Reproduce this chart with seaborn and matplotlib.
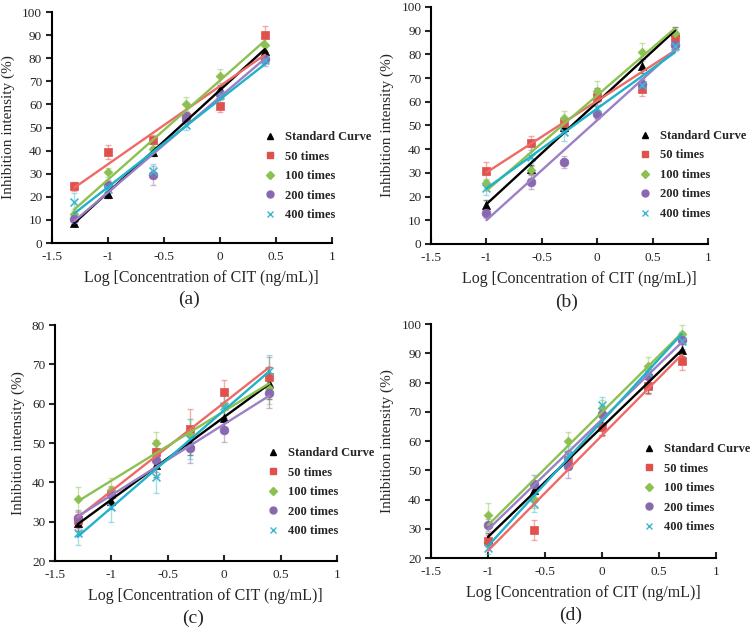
import matplotlib
matplotlib.use("Agg")
import matplotlib.pyplot as plt
from matplotlib.lines import Line2D
import seaborn as sns
import pandas as pd

# --- x positions (log concentration) ---
x_ac = [-1.3, -1.0, -0.6, -0.3, 0.0, 0.4]
x_bd = [-1.0, -0.6, -0.3, 0.0, 0.4, 0.7]

series_names = ["Standard Curve", "50 times", "100 times", "200 times", "400 times"]

# panel (a)
std_a = [8.8, 21.0, 39.5, 54.5, 66.5, 83.0]
r50_a = [24.5, 39.5, 44.7, 54.7, 59.5, 90.0]
r100_a = [12.7, 30.6, 40.8, 60.0, 72.4, 85.6]
r200_a = [10.2, 25.3, 29.3, 54.7, 64.4, 79.8]
r400_a = [17.7, 23.5, 31.2, 51.0, 64.0, 79.4]
err_a = [[1.5, 1.5, 2, 2, 2, 3], [2, 3, 2, 2, 3, 4], [2, 2, 2, 3, 3, 3],
         [2, 2, 4, 2, 2, 3], [4, 2, 3, 2, 2, 2]]

# panel (b)
std_b = [16.4, 31.5, 49.3, 63.0, 75.0, 89.5]
r50_b = [30.7, 42.7, 51.0, 61.8, 65.3, 86.7]
r100_b = [25.6, 31.0, 53.2, 64.6, 81.0, 88.8]
r200_b = [12.9, 26.0, 34.6, 54.7, 67.7, 83.8]
r400_b = [23.8, 36.8, 47.4, 57.5, 67.0, 83.5]
err_b = [[2, 2, 2, 3, 3, 2], [4, 3, 2, 3, 3, 2], [2, 3, 3, 4, 4, 2],
         [2, 3, 2.5, 2, 2, 2], [3, 4, 4, 3, 3, 2]]

# panel (c)
std_c = [29.6, 35.3, 44.3, 50.0, 56.4, 65.3]
r50_c = [30.5, 37.0, 47.7, 53.6, 63.0, 66.9]
r100_c = [35.7, 38.0, 49.9, 52.0, 59.7, 63.9]
r200_c = [30.9, 36.7, 45.7, 48.8, 53.3, 62.8]
r400_c = [27.0, 33.8, 41.3, 51.0, 59.3, 68.3]
err_c = [[2, 2, 3, 3, 3, 4], [2, 2, 3, 5, 3, 5], [3, 3, 3, 4, 3, 4],
         [2, 2, 3, 4, 3, 4], [3, 4, 4, 5, 4, 4]]

# panel (d)
std_d = [26.5, 43.2, 53.5, 65.1, 79.5, 91.1]
r50_d = [25.8, 29.6, 53.5, 64.9, 79.0, 87.5]
r100_d = [34.7, 40.2, 60.0, 71.2, 85.8, 96.8]
r200_d = [31.2, 45.5, 51.5, 69.4, 82.4, 94.5]
r400_d = [23.3, 38.6, 55.2, 72.2, 83.2, 94.2]
err_d = [[2, 3, 3, 3, 3, 2], [2, 3.5, 3, 3, 3, 3], [4, 3, 3, 3, 3, 3],
         [2, 3, 4, 3, 3, 3], [2, 3, 3, 3, 3, 3]]

x_ticks = [-1.5, -1, -0.5, 0, 0.5, 1]
x_ticklabels = ["-1.5", "-1", "-0.5", "0", "0.5", "1"]

# --- styles ---
marker_colors = ["#000000", "#E0504C", "#8CC152", "#8A68B0", "#3DB8D0"]
line_colors = ["#000000", "#EE6A66", "#8CC152", "#9B80C6", "#1FB2C8"]
markers = ["^", "s", "D", "o", "x"]
marker_sizes = [34, 40, 20, 40, 32]

sns.set_theme(style="white")
plt.rcParams["font.family"] = ["Liberation Serif", "DejaVu Serif"]

fig = plt.figure(figsize=(7.53, 6.32), dpi=100)

panels = [
    dict(pos=[0.069, 0.6155, 0.372, 0.3655], x=x_ac, ys=[std_a, r50_a, r100_a, r200_a, r400_a],
         err=err_a, ylim=(0, 100), yticks=range(0, 101, 10), tag="(a)", leg=(0.738, 0.506)),
    dict(pos=[0.5724, 0.614, 0.368, 0.375], x=x_bd, ys=[std_b, r50_b, r100_b, r200_b, r400_b],
         err=err_b, ylim=(0, 100), yticks=range(0, 101, 10), tag="(b)", leg=(0.732, 0.502)),
    dict(pos=[0.073, 0.1123, 0.3745, 0.3734], x=x_ac, ys=[std_c, r50_c, r100_c, r200_c, r400_c],
         err=err_c, ylim=(20, 80), yticks=range(20, 81, 10), tag="(c)", leg=(0.733, 0.504)),
    dict(pos=[0.5724, 0.117, 0.3785, 0.370], x=x_bd, ys=[std_d, r50_d, r100_d, r200_d, r400_d],
         err=err_d, ylim=(20, 100), yticks=range(20, 101, 10), tag="(d)", leg=(0.725, 0.513)),
]

for p in panels:
    ax = fig.add_axes(p["pos"])
    for i, name in enumerate(series_names):
        df = pd.DataFrame({"x": p["x"], "y": p["ys"][i]})
        ax.errorbar(df["x"], df["y"], yerr=p["err"][i], fmt="none",
                    ecolor=marker_colors[i], alpha=0.45, elinewidth=1, capsize=2, zorder=2)
        sns.scatterplot(data=df, x="x", y="y", ax=ax, marker=markers[i], s=marker_sizes[i],
                        color=marker_colors[i], edgecolor=marker_colors[i] if markers[i] != "x" else None,
                        linewidth=1.2 if markers[i] == "x" else 0.5, zorder=3, legend=False)
        sns.regplot(data=df, x="x", y="y", ax=ax, ci=None, scatter=False, truncate=True,
                    color=line_colors[i], line_kws=dict(lw=1.7, zorder=4))

    ax.set_xlim(-1.5, 1)
    ax.set_ylim(*p["ylim"])
    ax.set_xticks(x_ticks)
    ax.set_xticklabels(x_ticklabels)
    ax.set_yticks(list(p["yticks"]))
    for s in ["top", "right"]:
        ax.spines[s].set_visible(False)
    for s in ["left", "bottom"]:
        ax.spines[s].set_color("black")
        ax.spines[s].set_linewidth(1.5)
    ax.tick_params(axis="x", direction="in", length=4, width=1.5, labelsize=9.5, pad=6, bottom=True)
    ax.tick_params(axis="y", direction="out", length=4, width=1.5, labelsize=9.5, pad=3, left=True)
    ax.set_xlabel("Log [Concentration of CIT (ng/mL)]", fontsize=11.5, labelpad=3)
    ax.xaxis.set_label_coords(0.535, -0.115)
    ax.set_ylabel("Inhibition intensity (%)", fontsize=11, labelpad=5)
    ax.text(0.49, -0.245, p["tag"], transform=ax.transAxes, ha="center", va="center", fontsize=14)

    handles = [Line2D([], [], linestyle="none", marker=markers[i], color=marker_colors[i],
                      markersize=5 if markers[i] != "D" else 4, markeredgewidth=1)
               for i in range(len(series_names))]
    ax.legend(handles, series_names, loc="upper left", bbox_to_anchor=p["leg"], frameon=False,
              prop=dict(weight="bold", size=9), handletextpad=0.7, labelspacing=0.6,
              handlelength=1.0, borderaxespad=0)

fig.savefig("out.png", dpi=100)
